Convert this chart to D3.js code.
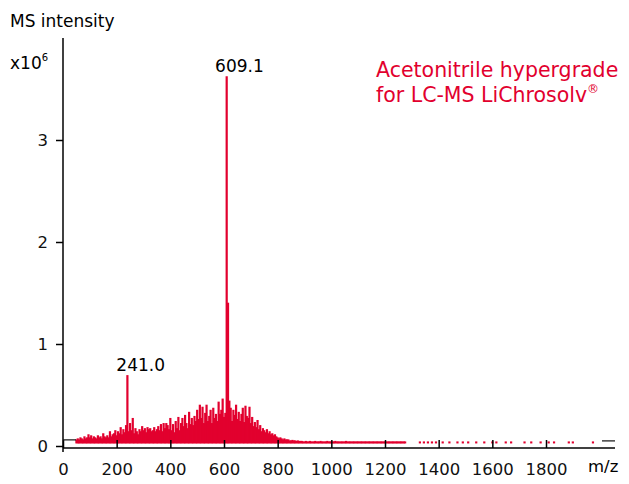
<!DOCTYPE html><html><head><meta charset="utf-8"><script src="https://cdn.jsdelivr.net/npm/d3@7"></script>
<style>body{margin:0;background:#fff}text{font-family:"DejaVu Sans",Verdana,sans-serif}</style></head><body><svg id="c" width="629" height="484"></svg>
<script>
const mzStart=50, mzStep=5;
const intensity=[
.04,.05,.04,.06,.05,.04,.07,.05,.06,.09,
.06,.08,.05,.07,.06,.05,.08,.06,.07,.05,
.1,.07,.06,.08,.06,.12,.07,.09,.1,.13,
.08,.12,.1,.16,.09,.14,.11,.18,.67,.12,
.2,.13,.25,.1,.15,.12,.09,.14,.12,.17,
.13,.15,.11,.16,.14,.15,.12,.13,.16,.12,
.14,.17,.13,.19,.12,.2,.15,.2,.18,.14,
.25,.13,.19,.11,.22,.15,.26,.13,.2,.25,
.17,.28,.2,.15,.31,.19,.25,.18,.27,.22,
.33,.24,.38,.25,.36,.2,.3,.38,.22,.27,
.33,.2,.35,.25,.29,.22,.41,.29,.33,.44,
.26,.3,3.6,1.38,.42,.35,.22,.33,.28,.38,
.24,.31,.22,.29,.35,.21,.37,.27,.25,.36,
.2,.26,.17,.21,.16,.23,.14,.18,.12,.15,
.13,.11,.14,.1,.12,.09,.1,.08,.09,.07,
.06,.05,.06,.05,.04,.05,.04,.04,.04,.03,
.03,.035,.03,.03,.025,.03,.025,.025,.025,.02,
.02,.025,.02,.02,.025,.02,.02,.02,.025,.02,
.02,.02,.025,.02,.02,.02,.02,.025,.02,.02,
.02,.02,.02,.025,.02,.02,.02,.02,.02,.02,
.02,.025,.02,.02,.02,.02,.02,.02,.02,.02,
.02,.02,.02,.02,.02,.02,.02,.02,.02,.02,
.02,.02,.02,.02,.02,.02,.02,.02,.02,.02,
.02,.02,.02,.02,.02,.02,.02,.02,.02,.02,
.02,.02,.02,.02,.02,.02];
const sparseMz=[1330,1345,1360,1375,1390,1415,1440,1470,1490,1510,1540,1570,1600,1615,1650,1670,1720,1745,1780,1810,1830,1885,1900,1975];
const sparseI=[.02,.02,.02,.02,.02,.02,.02,.02,.02,.02,.02,.02,.02,.02,.02,.02,.02,.02,.02,.02,.02,.02,.02,.02];
const xTicks=[0,200,400,600,800,1000,1200,1400,1600,1800];
const yTicks=[0,1,2,3];
const peaks=[{mz:609.1,v:3.6,label:"609.1"},{mz:241.0,v:0.67,label:"241.0"}];
const red="#e2002e";
const svg=d3.select("#c");
const x=d3.scaleLinear().domain([0,1800]).range([63,546]);
const y=d3.scaleLinear().domain([0,4]).range([446,38]);
const base=y(0.025);
const data=intensity.map((v,i)=>({mz:mzStart+i*mzStep,v})).concat(sparseMz.map((m,i)=>({mz:m,v:sparseI[i]})));
svg.append("g").selectAll("rect").data(data).join("rect")
 .attr("x",d=>x(d.mz)-1.1).attr("width",2.2)
 .attr("y",d=>Math.min(y(d.v+0.025),base-2)).attr("height",d=>base-Math.min(y(d.v+0.025),base-2)).attr("fill",red);
const xa=svg.append("g").attr("transform","translate(0,448)").call(d3.axisBottom(x).tickValues(xTicks).tickFormat(d3.format("d")).tickSize(8).tickSizeOuter(0));
xa.select(".domain").attr("d","M63,0H615").attr("stroke-width",1.5);
xa.selectAll(".tick line").attr("transform","translate(0,-8)").attr("y2",8).attr("stroke-width",1.5);
xa.selectAll("text").attr("font-size",16.5).attr("dy","0.95em").attr("fill","#111");
const ya=svg.append("g").attr("transform","translate(63,0)").call(d3.axisLeft(y).tickValues(yTicks).tickFormat(d3.format("d")).tickSize(7).tickSizeOuter(0));
ya.select(".domain").attr("d","M0,38V452").attr("stroke-width",1.5);
ya.selectAll(".tick line").attr("stroke-width",1.5);
ya.selectAll("text").attr("font-size",16.5).attr("fill","#111").attr("dx","-0.3em");
svg.append("line").attr("x1",63).attr("x2",76).attr("y1",y(0.06)).attr("y2",y(0.06)).attr("stroke","#111").attr("stroke-width",1.2);
svg.append("line").attr("x1",602).attr("x2",615).attr("y1",y(0.05)).attr("y2",y(0.05)).attr("stroke","#111").attr("stroke-width",1.2);
svg.append("text").attr("x",10).attr("y",27).attr("font-size",17).text("MS intensity");
const t=svg.append("text").attr("x",10).attr("y",69).attr("font-size",17).text("x10");
t.append("tspan").attr("font-size",10).attr("dy",-8).text("6");
svg.append("text").attr("x",588).attr("y",472).attr("font-size",16.5).text("m/z");
svg.selectAll(".pk").data(peaks).join("text").attr("x",d=>x(d.mz)+13).attr("y",d=>y(d.v)-7)
 .attr("text-anchor","middle").attr("font-size",17).text(d=>d.label);
svg.append("text").attr("x",376).attr("y",77).attr("font-size",20.5).attr("fill",red).text("Acetonitrile hypergrade");
const t2=svg.append("text").attr("x",376).attr("y",102).attr("font-size",20.5).attr("fill",red).text("for LC-MS LiChrosolv");
t2.append("tspan").attr("font-size",12).attr("dy",-9).text("®");
</script></body></html>
